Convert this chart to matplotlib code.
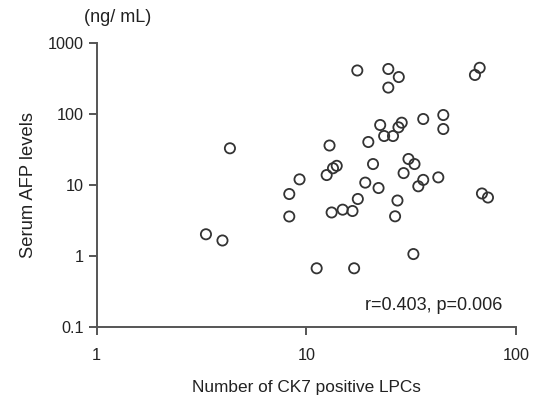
import matplotlib
matplotlib.use("Agg")
import matplotlib.pyplot as plt
import numpy as np

plt.rcParams['font.family'] = ['Liberation Sans', 'DejaVu Sans']

# number of CK7 positive LPCs vs serum AFP (ng/mL)
ck7_lpcs = [4.32, 3.32, 3.98, 9.28, 8.29, 8.29, 17.5, 24.6, 27.6, 24.6,
            22.5, 28.5, 27.5, 23.5, 25.9, 12.9, 19.75, 67.1, 63.7, 36.1,
            45.0, 45.0, 30.7, 32.8, 29.1, 36.1, 34.2, 42.6, 68.8, 73.5,
            27.2, 13.96, 13.4, 12.5, 20.8, 19.1, 22.1, 17.6, 13.2, 14.9,
            16.6, 26.5, 32.4, 11.2, 16.9]
afp = [32.8, 2.03, 1.66, 12.0, 7.47, 3.61, 407, 427, 329, 234,
       69.7, 75.1, 64.7, 48.8, 48.8, 35.9, 40.2, 444, 352, 84.6,
       96.3, 61.2, 23.2, 19.7, 14.7, 11.8, 9.59, 12.8, 7.6, 6.67,
       6.05, 18.6, 17.2, 13.8, 19.7, 10.8, 9.07, 6.36, 4.11, 4.50,
       4.31, 3.63, 1.07, 0.675, 0.675]

x_ticks = [1, 10, 100]
y_ticks = [0.1, 1, 10, 100, 1000]
y_tick_labels = ['0.1', '1', '10', '100', '1000']
stats_text = 'r=0.403, p=0.006'

W, H = 539, 396
fig = plt.figure(figsize=(W / 100, H / 100), dpi=100)
ax = fig.add_axes([96.7 / W, 1 - 327.3 / H, (516 - 96.7) / W, (327.3 - 42.7) / H])

ax.scatter(ck7_lpcs, afp, s=54, facecolors='none', edgecolors='#333333',
           linewidths=1.3, clip_on=False, zorder=3)

ax.set_xscale('log')
ax.set_yscale('log')
ax.set_xlim(1, 100)
ax.set_ylim(0.1, 1000)
ax.set_xticks(x_ticks)
ax.set_xticklabels([str(t) for t in x_ticks])
ax.set_yticks(y_ticks)
ax.set_yticklabels(y_tick_labels)
ax.minorticks_off()

for s in ['top', 'right']:
    ax.spines[s].set_visible(False)
for s in ['left', 'bottom']:
    ax.spines[s].set_color('#555555')
    ax.spines[s].set_linewidth(1.4)

ax.tick_params(axis='both', colors='#555555', width=1.4, length=6,
               labelcolor='#222222', labelsize=11.7)
ax.tick_params(axis='x', pad=9)
ax.tick_params(axis='y', pad=3)

ax.set_xlabel('Number of CK7 positive LPCs', fontsize=12.4, color='#222222', labelpad=12)
ax.set_ylabel('Serum AFP levels', fontsize=13.2, color='#222222', labelpad=8)

fig.text(118 / W, 1 - 18 / H, '(ng/ mL)', fontsize=13, color='#222222',
         ha='center', va='center')
fig.text(502 / W, 1 - 305 / H, stats_text, fontsize=13, color='#222222',
         ha='right', va='center')

fig.savefig('out.png', dpi=100)
